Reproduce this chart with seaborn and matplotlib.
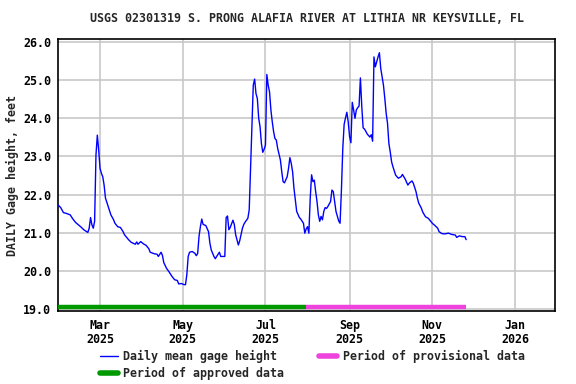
import pandas as pd
import matplotlib
matplotlib.use("Agg")
import matplotlib.pyplot as plt
import matplotlib.dates as mdates
from matplotlib.lines import Line2D
import seaborn as sns

# Daily mean gage height
dates = [
    "2025-01-29", "2025-01-31", "2025-02-02", "2025-02-04", "2025-02-07", "2025-02-09",
    "2025-02-11", "2025-02-13", "2025-02-15", "2025-02-17", "2025-02-20", "2025-02-21",
    "2025-02-22", "2025-02-23", "2025-02-24", "2025-02-25", "2025-02-26", "2025-02-27",
    "2025-02-28", "2025-03-01", "2025-03-02", "2025-03-03", "2025-03-04", "2025-03-05",
    "2025-03-07", "2025-03-09", "2025-03-11", "2025-03-12", "2025-03-14", "2025-03-16",
    "2025-03-18", "2025-03-19", "2025-03-22", "2025-03-24", "2025-03-27", "2025-03-28",
    "2025-03-29", "2025-03-31", "2025-04-02", "2025-04-04", "2025-04-06", "2025-04-07",
    "2025-04-10", "2025-04-12", "2025-04-13", "2025-04-15", "2025-04-16", "2025-04-17",
    "2025-04-19", "2025-04-21", "2025-04-23", "2025-04-25", "2025-04-27", "2025-04-28",
    "2025-04-30", "2025-05-02", "2025-05-03", "2025-05-04", "2025-05-05", "2025-05-06",
    "2025-05-08", "2025-05-10", "2025-05-11", "2025-05-12", "2025-05-13", "2025-05-14",
    "2025-05-15", "2025-05-16", "2025-05-18", "2025-05-20", "2025-05-21", "2025-05-22",
    "2025-05-24", "2025-05-25", "2025-05-26", "2025-05-28", "2025-05-29", "2025-06-01",
    "2025-06-02", "2025-06-03", "2025-06-04", "2025-06-05", "2025-06-07", "2025-06-08",
    "2025-06-09", "2025-06-10", "2025-06-11", "2025-06-12", "2025-06-14", "2025-06-15",
    "2025-06-16", "2025-06-18", "2025-06-19", "2025-06-20", "2025-06-21", "2025-06-22",
    "2025-06-23", "2025-06-24", "2025-06-25", "2025-06-26", "2025-06-27", "2025-06-28",
    "2025-06-29", "2025-06-30", "2025-07-01", "2025-07-02", "2025-07-03", "2025-07-04",
    "2025-07-05", "2025-07-06", "2025-07-07", "2025-07-08", "2025-07-09", "2025-07-10",
    "2025-07-12", "2025-07-13", "2025-07-14", "2025-07-15", "2025-07-17", "2025-07-18",
    "2025-07-19", "2025-07-20", "2025-07-21", "2025-07-22", "2025-07-23", "2025-07-24",
    "2025-07-26", "2025-07-27", "2025-07-29", "2025-07-30", "2025-07-31", "2025-08-01",
    "2025-08-02", "2025-08-03", "2025-08-04", "2025-08-05", "2025-08-06", "2025-08-07",
    "2025-08-08", "2025-08-09", "2025-08-10", "2025-08-11", "2025-08-12", "2025-08-13",
    "2025-08-14", "2025-08-15", "2025-08-16", "2025-08-18", "2025-08-19", "2025-08-20",
    "2025-08-21", "2025-08-22", "2025-08-24", "2025-08-25", "2025-08-26", "2025-08-27",
    "2025-08-28", "2025-08-29", "2025-08-30", "2025-08-31", "2025-09-01", "2025-09-02",
    "2025-09-03", "2025-09-04", "2025-09-05", "2025-09-06", "2025-09-07", "2025-09-08",
    "2025-09-09", "2025-09-10", "2025-09-11", "2025-09-12", "2025-09-13", "2025-09-14",
    "2025-09-16", "2025-09-17", "2025-09-18", "2025-09-19", "2025-09-20", "2025-09-21",
    "2025-09-22", "2025-09-23", "2025-09-24", "2025-09-25", "2025-09-26", "2025-09-27",
    "2025-09-28", "2025-09-29", "2025-09-30", "2025-10-01", "2025-10-02", "2025-10-03",
    "2025-10-05", "2025-10-07", "2025-10-09", "2025-10-10", "2025-10-12", "2025-10-14",
    "2025-10-15", "2025-10-17", "2025-10-18", "2025-10-20", "2025-10-21", "2025-10-22",
    "2025-10-24", "2025-10-25", "2025-10-27", "2025-10-29", "2025-10-30", "2025-11-01",
    "2025-11-03", "2025-11-05", "2025-11-06", "2025-11-08", "2025-11-10", "2025-11-13",
    "2025-11-15", "2025-11-18", "2025-11-19", "2025-11-21", "2025-11-23", "2025-11-25",
    "2025-11-26",
]
gage_height = [
    21.73, 21.66, 21.53, 21.51, 21.47, 21.36,
    21.27, 21.21, 21.15, 21.08, 21.01, 21.12,
    21.40, 21.21, 21.12, 21.30, 23.04, 23.56,
    23.17, 22.69, 22.56, 22.47, 22.25, 21.91,
    21.69, 21.47, 21.34, 21.25, 21.16, 21.14,
    21.03, 20.95, 20.82, 20.75, 20.70, 20.76,
    20.70, 20.77, 20.71, 20.67, 20.58, 20.49,
    20.45, 20.44, 20.38, 20.49, 20.41, 20.22,
    20.07, 19.97, 19.86, 19.77, 19.75, 19.66,
    19.67, 19.64, 19.64, 19.90, 20.38, 20.49,
    20.51, 20.46, 20.40, 20.46, 20.91, 21.16,
    21.36, 21.22, 21.19, 21.03, 20.73, 20.55,
    20.38, 20.32, 20.38, 20.49, 20.38, 20.38,
    21.40, 21.44, 21.08, 21.14, 21.33, 21.22,
    20.95, 20.82, 20.68, 20.79, 21.12, 21.22,
    21.28, 21.38, 21.60, 22.69, 23.75, 24.87,
    25.03, 24.65, 24.52, 24.00, 23.78, 23.34,
    23.11, 23.19, 23.30, 25.15, 24.87, 24.69,
    24.22, 23.91, 23.65, 23.47, 23.43, 23.21,
    22.91, 22.60, 22.34, 22.31, 22.47, 22.69,
    22.97, 22.82, 22.60, 22.17, 21.86, 21.56,
    21.40, 21.36, 21.25, 20.99, 21.10, 21.16,
    20.99, 21.91, 22.52, 22.34, 22.38, 22.08,
    21.82, 21.47, 21.30, 21.43, 21.34, 21.56,
    21.66, 21.64, 21.69, 21.82, 22.12, 22.08,
    21.82, 21.56, 21.31, 21.25, 22.12, 23.20,
    23.84, 24.01, 24.16, 23.91, 23.53, 23.36,
    24.42, 24.22, 24.00, 24.22, 24.28, 24.32,
    25.06, 24.32, 23.75, 23.72, 23.66, 23.59,
    23.51, 23.57, 23.40, 25.61, 25.35, 25.48,
    25.61, 25.72, 25.31, 25.09, 24.87, 24.52,
    24.13, 23.87, 23.34, 23.12, 22.86, 22.73,
    22.51, 22.43, 22.47, 22.53, 22.41, 22.25,
    22.30, 22.36, 22.30, 22.08, 21.91, 21.78,
    21.64, 21.54, 21.42, 21.38, 21.34, 21.25,
    21.19, 21.12, 21.03, 20.98, 20.97, 20.99,
    20.96, 20.94, 20.88, 20.92, 20.90, 20.90,
    20.82,
]

# data-approval periods shown as bars along the bottom
approved_period = ["2025-01-29", "2025-07-31"]
provisional_period = ["2025-07-31", "2025-11-26"]
period_level = 19.05

tick_dates = ["2025-03-01", "2025-05-01", "2025-07-01", "2025-09-01", "2025-11-01", "2026-01-01"]
title = "USGS 02301319 S. PRONG ALAFIA RIVER AT LITHIA NR KEYSVILLE, FL"

df = pd.DataFrame({"date": pd.to_datetime(dates), "height": gage_height})

sns.set_style("white")
plt.rcParams["font.family"] = ["DejaVu Sans Mono"]
plt.rcParams["font.weight"] = "bold"
fs = 8.4

fig = plt.figure(figsize=(5.76, 3.84), dpi=100)
ax = fig.add_axes([58 / 576, 1 - 311 / 384, (555 - 58) / 576, (311 - 39) / 384])

blue = "#0000ff"
green = "#009900"
pink = "#ee44dd"

ax.plot(pd.to_datetime(approved_period), [period_level] * 2, color=green, lw=3.2,
        solid_capstyle="butt", zorder=3)
ax.plot(pd.to_datetime(provisional_period), [period_level] * 2, color=pink, lw=3.2,
        solid_capstyle="butt", zorder=3)
sns.lineplot(data=df, x="date", y="height", ax=ax, color=blue, lw=1.0,
             estimator=None, zorder=4)

ax.set_xlim(pd.Timestamp("2025-01-29"), pd.Timestamp("2026-01-30 12:00"))
ax.set_ylim(18.95, 26.08)
ax.set_yticks([19, 20, 21, 22, 23, 24, 25, 26])
ax.yaxis.set_major_formatter(matplotlib.ticker.FormatStrFormatter("%.1f"))
ax.set_xticks(pd.to_datetime(tick_dates))
ax.xaxis.set_major_formatter(mdates.DateFormatter("%b\n%Y"))
ax.grid(True, color="#c8c8c8", lw=1.2)
ax.set_axisbelow(True)
for s in ax.spines.values():
    s.set_color("black")
    s.set_linewidth(1.2)
ax.tick_params(axis="both", length=0, labelsize=fs, colors="black")
ax.tick_params(axis="x", pad=6)
ax.tick_params(axis="y", pad=5)
for lab in ax.get_xticklabels() + ax.get_yticklabels():
    lab.set_fontweight("bold")
for lab in ax.get_xticklabels():
    lab.set_linespacing(1.05)
ax.set_xlabel("")
ax.set_ylabel("DAILY Gage height, feet", fontsize=fs, fontweight="bold", labelpad=3)
fig.text(0.5 * (58 + 555) / 576 + 0.001, 1 - 19 / 384, title, ha="center", va="center",
         fontsize=fs, fontweight="bold")

handles = [
    Line2D([], [], color=blue, lw=1),
    Line2D([], [], color=green, lw=4),
    Line2D([], [], color=pink, lw=4),
]
labels = ["Daily mean gage height", "Period of approved data", "Period of provisional data"]
fig.legend(handles, labels, loc="upper left", bbox_to_anchor=(100 / 576, 1 - 350 / 384),
           ncol=2, frameon=False, prop={"size": fs, "weight": "bold"},
           handlelength=1.55, handletextpad=0.45, columnspacing=3.0,
           labelspacing=0.3, borderpad=0, borderaxespad=0)

fig.savefig("out.png", dpi=100)
